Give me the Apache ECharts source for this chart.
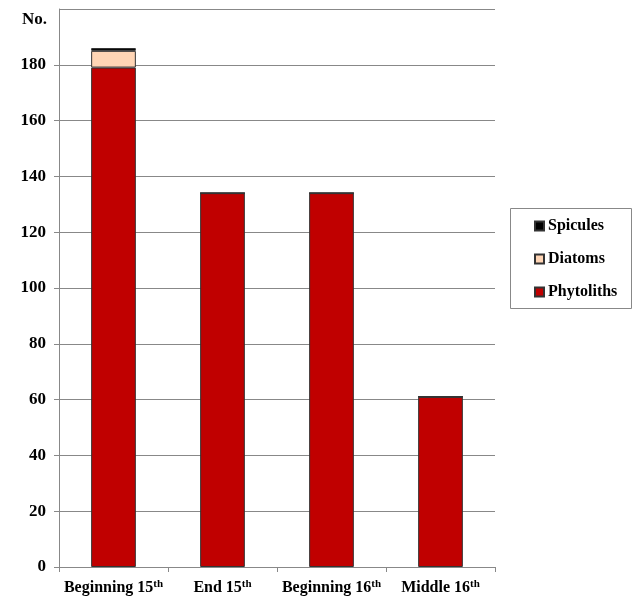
<!DOCTYPE html>
<html>
<head>
<meta charset="utf-8">
<script src="https://cdn.jsdelivr.net/npm/echarts@6/dist/echarts.min.js"></script>
<style>
  html, body { margin: 0; padding: 0; background: #fff; }
  #chart { width: 632px; height: 600px; }
</style>
</head>
<body>
<div id="chart"></div>
<script>
// Periods and counts of microfossils per period
const periods = ['Beginning 15', 'End 15', 'Beginning 16', 'Middle 16'];
const phytoliths = [179, 134, 134, 61];
const diatoms = [6, 0, 0, 0];
const spicules = [1, 0, 0, 0];
const yTicks = [0, 20, 40, 60, 80, 100, 120, 140, 160, 180, 200];

const serif = '"Liberation Serif", "Times New Roman", serif';
const chart = echarts.init(document.getElementById('chart'));

const barStyle = (color) => ({ color: color, borderColor: '#333', borderWidth: 1 });

chart.setOption({
  animation: false,
  backgroundColor: '#fff',
  grid: { left: 59, right: 137, top: 9, bottom: 33 },
  title: {
    text: 'No.',
    left: 17, top: 6,
    textStyle: { fontFamily: serif, fontWeight: 'bold', fontSize: 17, color: '#000' }
  },
  // frame around the legend
  graphic: [{
    type: 'rect',
    shape: { x: 510.5, y: 208.5, width: 121, height: 100 },
    style: { fill: 'none', stroke: '#888', lineWidth: 1 },
    silent: true
  }],
  legend: {
    orient: 'vertical',
    left: 510, top: 208,
    padding: [9, 10, 8, 24],
    itemGap: 15,
    itemWidth: 9, itemHeight: 9,
    icon: 'rect',
    data: ['Spicules', 'Diatoms', 'Phytoliths'],
    textStyle: { fontFamily: serif, fontWeight: 'bold', fontSize: 16, lineHeight: 18, color: '#000', padding: [0, 0, 0, -1] }
  },
  xAxis: {
    type: 'category',
    data: periods,
    axisLine: { lineStyle: { color: '#888' } },
    axisTick: { show: true, alignWithLabel: false, length: 5, lineStyle: { color: '#888' } },
    axisLabel: {
      interval: 0,
      margin: 12,
      formatter: (v) => '{b|' + v + '}{s|th}',
      rich: {
        b: { fontFamily: serif, fontWeight: 'bold', fontSize: 16, color: '#000' },
        s: { fontFamily: serif, fontWeight: 'bold', fontSize: 11, color: '#000', verticalAlign: 'top', padding: [0, 0, 6, 0] }
      }
    }
  },
  yAxis: {
    type: 'value',
    min: yTicks[0], max: yTicks[yTicks.length - 1], interval: yTicks[1] - yTicks[0],
    axisLine: { show: true, lineStyle: { color: '#888' } },
    axisTick: { show: true, length: 5, lineStyle: { color: '#888' } },
    splitLine: { lineStyle: { color: '#888', width: 1 } },
    axisLabel: {
      margin: 13, fontFamily: serif, fontWeight: 'bold', fontSize: 17, color: '#000',
      showMaxLabel: false,
      formatter: (v) => (v === yTicks[yTicks.length - 1] ? '' : String(v))
    }
  },
  series: [
    { name: 'Phytoliths', type: 'bar', stack: 'n', data: phytoliths, barWidth: '41%', itemStyle: barStyle('#C00000') },
    { name: 'Diatoms', type: 'bar', stack: 'n', data: diatoms, itemStyle: barStyle('#FFD5B5') },
    { name: 'Spicules', type: 'bar', stack: 'n', data: spicules, itemStyle: barStyle('#000') }
  ]
});
</script>
</body>
</html>
